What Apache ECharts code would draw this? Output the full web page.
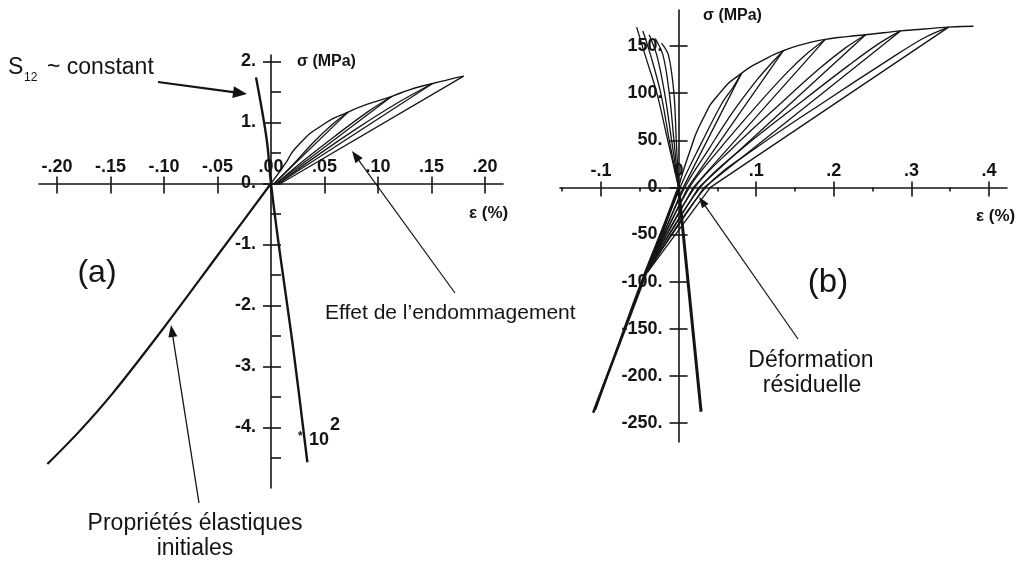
<!DOCTYPE html>
<html><head><meta charset="utf-8">
<script src="https://cdn.jsdelivr.net/npm/echarts@6/dist/echarts.min.js"></script>
<style>html,body{margin:0;padding:0;background:#fff}#c{width:1016px;height:563px}</style>
</head><body><div id="c"></div>
<script>
// ---------- Panel (a): ε (%) vs σ (x10^2 MPa) ----------
const aXTicks = [-0.20,-0.15,-0.10,-0.05,0,0.05,0.10,0.15,0.20];
const aXLabels = ['-.20','-.15','-.10','-.05','.00','.05','.10','.15','.20'];
const aYTicks = [-4,-3,-2,-1,0,1,2];
const aYLabels = ['-4.','-3.','-2.','-1.','0.','1.','2.'];
const aYAllTicks = [-4.5,-4,-3.5,-3,-2.5,-2,-1.5,-1,-0.5,0,0.5,1,1.5,2];
const aLateral = [[-0.014,1.74],[-0.004,0.72],[0,0],[0.008,-1.1],[0.02,-2.6],[0.034,-4.57]];
const aCompression = [[0,0],[-0.05,-1.18],[-0.1,-2.36],[-0.148,-3.44],[-0.18,-4.08],[-0.209,-4.6]];
const aEnvelope = [[0,0],[0.0124,0.30],[0.025,0.62],[0.05,0.98],[0.072,1.17],[0.087,1.28],[0.113,1.43],[0.13,1.54],[0.151,1.64],[0.165,1.70],[0.18,1.76]];
const aReload1 = [[0.003,0],[0.02,0.30],[0.04,0.68],[0.058,0.98],[0.072,1.17]];
const aReload2 = [[0.005,0],[0.03,0.37],[0.06,0.78],[0.09,1.17],[0.113,1.43]];
const aReload3 = [[0.007,0],[0.04,0.42],[0.08,0.90],[0.12,1.34],[0.151,1.64]];
const aUnload1 = [[0.072,1.17],[0.003,0]];
const aUnload2 = [[0.113,1.43],[0.005,0]];
const aUnload3 = [[0.151,1.64],[0.007,0]];
const aUnload4 = [[0.18,1.76],[0.009,0]];

// ---------- Panel (b): ε (%) vs σ (MPa) ----------
const bXTicks = [-0.1,0,0.1,0.2,0.3,0.4];
const bXLabels = ['-.1','0','.1','.2','.3','.4'];
const bXMinorTicks = [-0.15,-0.05,0.05,0.15,0.25,0.35];
const bYTicks = [-250,-200,-150,-100,-50,0,50,100,150];
const bYLabels = ['-250.','-200.','-150.','-100.','-50.','0.','50.','100.','150.'];
const bLateral1 = [[0,0],[-0.003,50],[-0.006,100],[-0.013,140],[-0.022,153]];
const bLateral2 = [[0,0],[-0.006,50],[-0.012,100],[-0.02,140],[-0.03,158]];
const bLateral3 = [[0,0],[-0.009,50],[-0.018,100],[-0.028,140],[-0.038,162]];
const bLateral4 = [[0,0],[-0.012,50],[-0.023,100],[-0.036,140],[-0.046,166]];
const bLateral5 = [[0,0],[-0.014,50],[-0.028,100],[-0.043,140],[-0.054,170]];
const bLateralDown = [[0,0],[0.029,-238]];
const bCompression = [[0,0],[-0.11,-239]];
const bCompression2 = [[0.002,0],[-0.048,-100],[-0.107,-236]];
const bEnvelope = [[0,0],[0.014,37],[0.031,72],[0.053,100],[0.081,121],[0.109,135],[0.135,145],[0.161,152],[0.189,157],[0.217,160],[0.241,162],[0.264,164],[0.286,166],[0.316,168],[0.348,170],[0.38,171]];
const bUnload1 = [[0.081,121],[0.006,0],[-0.03,-70]];
const bUnload2 = [[0.135,145],[0.012,0],[-0.032,-74]];
const bUnload3 = [[0.189,157],[0.019,0],[-0.034,-78]];
const bUnload4 = [[0.241,162],[0.026,0],[-0.036,-82]];
const bUnload5 = [[0.286,166],[0.033,0],[-0.038,-86]];
const bUnload6 = [[0.348,170],[0.041,0],[-0.04,-90]];
const bReload1 = [[-0.03,-70],[0.002,0],[0.03,48],[0.055,88],[0.07,106],[0.081,121]];
const bReload2 = [[-0.032,-74],[0.008,0],[0.04,42],[0.07,80],[0.1,113],[0.12,132],[0.135,145]];
const bReload3 = [[-0.034,-78],[0.014,0],[0.05,38],[0.1,86],[0.14,122],[0.167,143],[0.189,157]];
const bReload4 = [[-0.036,-82],[0.021,0],[0.07,42],[0.13,88],[0.18,125],[0.215,148],[0.241,162]];
const bReload5 = [[-0.038,-86],[0.028,0],[0.08,40],[0.16,92],[0.22,130],[0.257,152],[0.286,166]];
const bReload6 = [[-0.04,-90],[0.035,0],[0.1,42],[0.19,92],[0.27,135],[0.315,158],[0.348,170]];

const INK = '#141414';
const FONT = 'Liberation Sans, Arial, Helvetica, sans-serif';
const gridA = { left: 39, top: 55, width: 464, height: 433 };
const gridB = { left: 560, top: 10, width: 447, height: 432 };
const aX = [-0.2168, 0.2168], aY = [-4.992, 2.107];
const bX = [-0.1528, 0.4232], bY = [-270.1, 188.2];

// offsets that bring the axes onto the zero line of the other axis
function xOff(g, yr) { const zeroY = g.top + g.height * yr[1] / (yr[1] - yr[0]); return -(g.top + g.height - zeroY); }
function yOff(g, xr) { const zeroX = g.left + g.width * (-xr[0]) / (xr[1] - xr[0]); return -(zeroX - g.left); }

function fmt(ticks, labels) {
  return function (v) { const i = ticks.findIndex(t => Math.abs(t - v) < 1e-9); return i < 0 ? '' : labels[i]; };
}
function xAxisDef(gi, min, max, off, o) {
  return {
    type: 'value', gridIndex: gi, min: min, max: max, position: 'bottom', offset: off,
    axisLine: { show: !!o.line, onZero: false, lineStyle: { color: INK, width: 1.6 } },
    axisTick: { show: true, inside: !!o.up, length: o.len, customValues: o.ticks, lineStyle: { color: INK, width: 1.6 } },
    axisLabel: o.labels ? { show: true, inside: true, margin: o.margin, customValues: o.ticks, formatter: fmt(o.ticks, o.labels),
      color: INK, fontSize: 18, fontWeight: 'bold', fontFamily: FONT } : { show: false },
    splitLine: { show: false }
  };
}
function yAxisDef(gi, min, max, off, o) {
  return {
    type: 'value', gridIndex: gi, min: min, max: max, position: 'left', offset: off,
    axisLine: { show: !!o.line, onZero: false, lineStyle: { color: INK, width: 1.6 } },
    axisTick: { show: true, inside: !!o.right, length: o.len, customValues: o.ticks, lineStyle: { color: INK, width: 1.6 } },
    axisLabel: o.labels ? { show: true, margin: o.margin, customValues: o.ticks, formatter: fmt(o.ticks, o.labels),
      color: INK, fontSize: 18, fontWeight: 'bold', fontFamily: FONT, padding: [0, 0, 7, 0] } : { show: false },
    splitLine: { show: false }
  };
}
function ser(data, panel, w, smooth) {
  return { type: 'line', xAxisIndex: panel === 'a' ? 0 : 2, yAxisIndex: panel === 'a' ? 0 : 2, data: data,
    showSymbol: false, symbol: 'none', smooth: smooth ? smooth : false,
    silent: true, clip: false, lineStyle: { color: INK, width: w } };
}
function txt(x, y, text, size, opts) {
  opts = opts || {};
  return { type: 'text', x: x, y: y, silent: true, z: 10, style: { text: text, fontSize: size, fontFamily: FONT,
    fontWeight: opts.bold ? 'bold' : 'normal', fill: INK, align: opts.align || 'left', verticalAlign: 'middle' } };
}
function arrow(x1, y1, x2, y2, w, h, hw) {
  const L = Math.hypot(x2 - x1, y2 - y1), ux = (x2 - x1) / L, uy = (y2 - y1) / L, nx = -uy, ny = ux;
  const bx = x2 - h * ux, by = y2 - h * uy;
  return [
    { type: 'line', silent: true, z: 10, shape: { x1: x1, y1: y1, x2: bx + ux * 2, y2: by + uy * 2 }, style: { stroke: INK, lineWidth: w } },
    { type: 'polygon', silent: true, z: 10, shape: { points: [[x2, y2], [bx + hw * nx, by + hw * ny], [bx - hw * nx, by - hw * ny]] }, style: { fill: INK } }
  ];
}

const axA = xOff(gridA, aY), ayA = yOff(gridA, aX), axB = xOff(gridB, bY), ayB = yOff(gridB, bX);
const S = 0.35, SE = 0.6, W = 1.3;

const option = {
  animation: false,
  backgroundColor: '#fff',
  grid: [
    Object.assign({ outerBoundsMode: 'none', containLabel: false }, gridA),
    Object.assign({ outerBoundsMode: 'none', containLabel: false }, gridB)
  ],
  xAxis: [
    xAxisDef(0, aX[0], aX[1], axA, { line: true, len: 10, ticks: aXTicks, labels: aXLabels, margin: 7 }),
    xAxisDef(0, aX[0], aX[1], axA, { up: true, len: 7, ticks: aXTicks }),
    xAxisDef(1, bX[0], bX[1], axB, { line: true, len: 9, ticks: bXTicks, labels: bXLabels, margin: 7 }),
    xAxisDef(1, bX[0], bX[1], axB, { up: true, len: 6, ticks: bXTicks }),
    xAxisDef(1, bX[0], bX[1], axB, { len: 4, ticks: bXMinorTicks })
  ],
  yAxis: [
    yAxisDef(0, aY[0], aY[1], ayA, { line: true, len: 8, ticks: aYTicks, labels: aYLabels, margin: 15 }),
    yAxisDef(0, aY[0], aY[1], ayA, { right: true, len: 10, ticks: aYAllTicks }),
    yAxisDef(1, bY[0], bY[1], ayB, { line: true, len: 9, ticks: bYTicks, labels: bYLabels, margin: 16 }),
    yAxisDef(1, bY[0], bY[1], ayB, { right: true, len: 9, ticks: bYTicks })
  ],
  series: [
    ser(aLateral, 'a', 2.4, S), ser(aCompression, 'a', 2.2, 0.3), ser(aEnvelope, 'a', 1.4, SE),
    ser(aReload1, 'a', W, S), ser(aReload2, 'a', W, S), ser(aReload3, 'a', W, S),
    ser(aUnload1, 'a', W), ser(aUnload2, 'a', W), ser(aUnload3, 'a', W), ser(aUnload4, 'a', W),
    ser(bLateral1, 'b', W, S), ser(bLateral2, 'b', W, S), ser(bLateral3, 'b', W, S),
    ser(bLateral4, 'b', W, S), ser(bLateral5, 'b', W, S), ser(bLateralDown, 'b', 3),
    ser(bCompression, 'b', 2.6), ser(bCompression2, 'b', 1.6, S), ser(bEnvelope, 'b', 1.4, SE),
    ser(bUnload1, 'b', W), ser(bUnload2, 'b', W), ser(bUnload3, 'b', W),
    ser(bUnload4, 'b', W), ser(bUnload5, 'b', W), ser(bUnload6, 'b', W),
    ser(bReload1, 'b', W, S), ser(bReload2, 'b', W, S), ser(bReload3, 'b', W, S),
    ser(bReload4, 'b', W, S), ser(bReload5, 'b', W, S), ser(bReload6, 'b', W, S)
  ],
  graphic: [].concat(
    [
      txt(8, 68, 'S', 23), txt(24, 78, '12', 12), txt(47, 68, '~ constant', 23),
      txt(97, 273, '(a)', 32, { align: 'center' }),
      txt(828, 283, '(b)', 33, { align: 'center' }),
      txt(325, 313, 'Effet de l\u2019endommagement', 21),
      txt(195, 524, 'Propriétés élastiques', 23, { align: 'center' }),
      txt(195, 549, 'initiales', 23, { align: 'center' }),
      txt(811, 361, 'Déformation', 23, { align: 'center' }),
      txt(812, 386, 'résiduelle', 23, { align: 'center' }),
      txt(298, 437, '*', 12, { bold: true }),
      txt(309, 440, '10', 18, { bold: true }),
      txt(330, 425, '2', 18, { bold: true }),
      txt(297, 62, 'σ (MPa)', 16, { bold: true }),
      txt(469, 213, 'ε (%)', 17, { bold: true }),
      txt(703, 16, 'σ (MPa)', 16, { bold: true }),
      txt(976, 216, 'ε (%)', 17, { bold: true })
    ],
    arrow(158, 82, 247, 94, 2.2, 14, 6),
    arrow(455, 293, 352, 151, 1.2, 12, 4.5),
    arrow(199, 503, 171, 325, 1.3, 12, 4.5),
    arrow(798, 339, 699, 197, 1.2, 11, 4)
  )
};
const chart = echarts.init(document.getElementById('c'), null, { renderer: 'canvas' });
chart.setOption(option);
</script>
</body></html>
